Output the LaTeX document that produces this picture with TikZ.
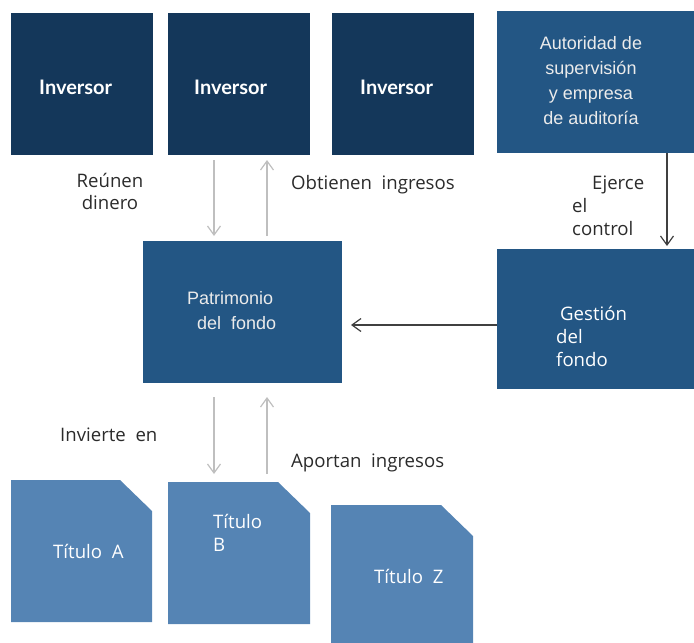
\documentclass[tikz,border=0pt]{standalone}
\usepackage{fontspec}
\setmainfont{Open Sans}
\newfontfamily\boldsans{Lato}
\newfontfamily\helv{Liberation Sans}
\usetikzlibrary{calc,arrows.meta}
\definecolor{navy}{HTML}{14375A}
\definecolor{midblue}{HTML}{235684}
\definecolor{lightblue}{HTML}{5584B4}
\definecolor{txt}{HTML}{2B2B2B}
\definecolor{garr}{HTML}{BFBFBF}
\definecolor{darr}{HTML}{404040}
\tikzset{
  box/.style={anchor=north west, inner sep=0pt, outer sep=0pt, minimum width=142pt, minimum height=142pt},
  invbox/.style={box, fill=navy},
  midbox/.style={box, fill=midblue},
  titulo/.style={box, path picture={\fill[lightblue] (path picture bounding box.north west) -- ([xshift=-32pt]path picture bounding box.north east) -- ([yshift=-31pt]path picture bounding box.north east) -- (path picture bounding box.south east) -- (path picture bounding box.south west) -- cycle;}},
  invtxt/.style={anchor=base west, inner sep=0pt, text=white, font=\boldsans\bfseries\fontsize{20}{24}\selectfont},
  lbl/.style={anchor=base west, inner sep=0pt, text=txt, font=\fontsize{18.6}{23}\selectfont},
  wlbl/.style={anchor=base west, inner sep=0pt, text=white, font=\fontsize{18.6}{23}\selectfont},
  hlbl/.style={anchor=base west, inner sep=0pt, text=white!92!black, font=\helv\fontsize{18}{25}\selectfont},
  garrow/.style={draw=garr, line width=1.2pt, -{Straight Barb[length=9pt,width=13pt]}},
  darrow/.style={draw=darr, line width=1.2pt, -{Straight Barb[length=9pt,width=13pt]}}
}
\begin{document}
\begin{tikzpicture}[x=1pt,y=-1pt]
\useasboundingbox (0,0) rectangle (694,643);
% boxes
\node[invbox] (inv1) at (11,13) {};
\node[invbox] (inv2) at (168,13) {};
\node[invbox] (inv3) at (332,13) {};
\node[midbox, minimum width=197pt] (aut) at (497,11) {};
\node[midbox, minimum width=199pt] (pat) at (143,241) {};
\node[midbox, minimum width=197pt, minimum height=140pt] (ges) at (497,249) {};
\node[titulo, minimum width=141pt] (ta) at (11,480) {};
\node[titulo] (tb) at (168,482) {};
\node[titulo] (tz) at (331,505) {};
% box texts
\node[invtxt] (t1) at (39,94) {Inversor};
\node[invtxt] (t2) at (194,94) {Inversor};
\node[invtxt] (t3) at (360,94) {Inversor};
\node[anchor=north, inner sep=0pt, text=white!92!black, font=\helv\fontsize{18}{25}\selectfont, align=center] (autt) at (591,36) {Autoridad de\\supervisión\\y empresa\\de auditoría};
\node[hlbl] (p1) at (187,304) {Patrimonio};
\node[hlbl] (p2) at (197,329) {del\ \ fondo};
\node[wlbl] (g1) at (560,320) {Gestión};
\node[wlbl] (g2) at (556,343) {del};
\node[wlbl] (g3) at (556,366) {fondo};
\node[wlbl] (ta1) at (53,558) {Título\ \ A};
\node[wlbl] (tb1) at (213,528) {Título};
\node[wlbl] (tb2) at (213,551) {B};
\node[wlbl] (tz1) at (374,583) {Título\ \ Z};
% labels
\node[anchor=north, inner sep=0pt, text=txt, font=\fontsize{18.6}{22}\selectfont, align=center] (reu) at (110,173) {Reúnen\\dinero};
\node[lbl] (obt) at (291,189) {Obtienen\ \ ingresos};
\node[lbl] (ej1) at (592,189) {Ejerce};
\node[lbl] (ej2) at (572,212) {el};
\node[lbl] (ej3) at (572,235) {control};
\node[lbl] (inv) at (60,441) {Invierte\ \ en};
\node[lbl] (apo) at (291,467) {Aportan\ \ ingresos};
% arrows
\draw[garrow] ($(inv2.south west)+(46,5)$) -- ($(pat.north west)+(71,-5)$);
\draw[garrow] ($(pat.north west)+(124,-5)$) -- ($(inv2.south west)+(99,5)$);
\draw[garrow] ($(pat.south west)+(71,14)$) -- ($(tb.north west)+(46,-8)$);
\draw[garrow] ($(tb.north west)+(99,-8)$) -- ($(pat.south west)+(124,14)$);
\draw[darrow] ($(aut.south west)+(170,0)$) -- ($(ges.north west)+(170,-3)$);
\draw[darrow] ($(ges.north west)+(0,76)$) -- ($(pat.north east)+(9,84)$);
\end{tikzpicture}
\end{document}
